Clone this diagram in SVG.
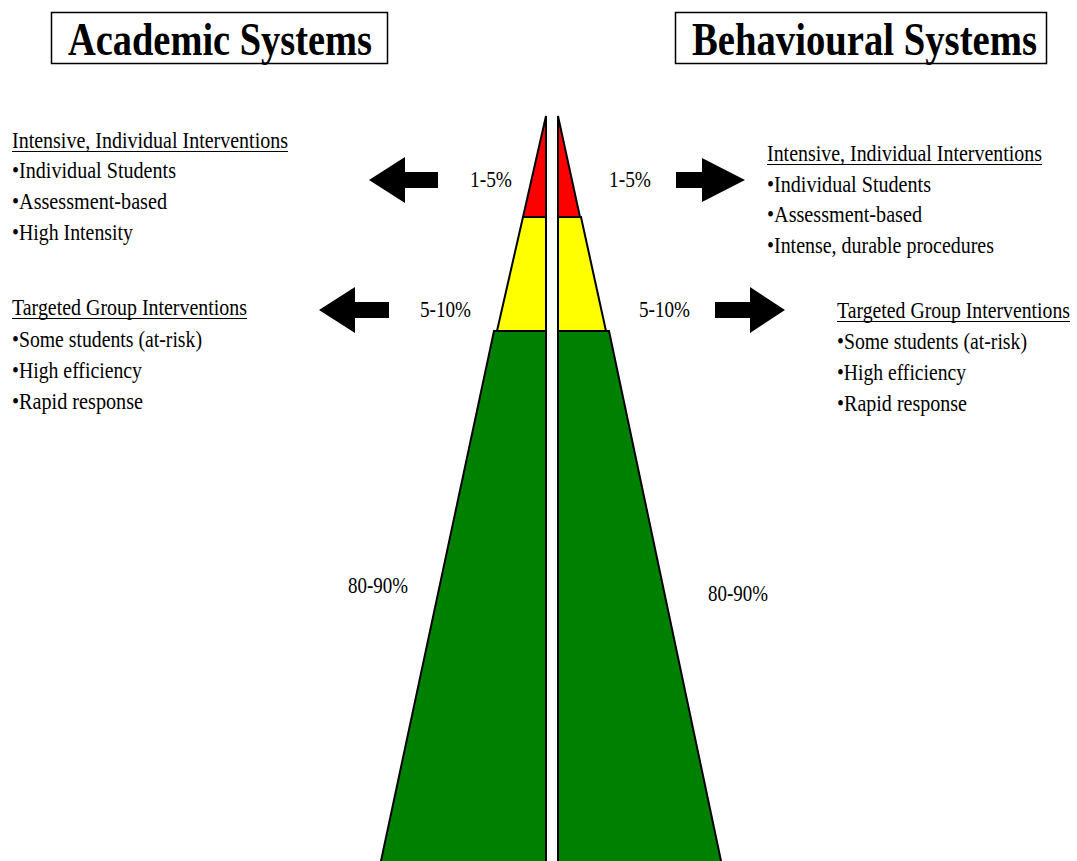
<svg xmlns="http://www.w3.org/2000/svg" width="1077" height="861" viewBox="0 0 1077 861">
<style>
.t{font-family:"Liberation Serif","Times New Roman",serif;font-size:23px;fill:#000}
.h{font-family:"Liberation Serif","Times New Roman",serif;font-size:47px;font-weight:bold;fill:#000}
.box{fill:#fff;stroke:#000;stroke-width:1.5}
.tier{stroke:#000;stroke-width:2;stroke-linejoin:miter}
.ul{stroke:#000;stroke-width:1.2}
.arr{fill:#000}
</style>
<rect width="1077" height="861" fill="#fff"/>
<g id="title-academic">
<rect class="box" x="51.5" y="12.5" width="336" height="51"/>
<text class="h" x="68" y="55" textLength="304" lengthAdjust="spacingAndGlyphs">Academic Systems</text>
</g>
<g id="title-behavioural">
<rect class="box" x="675.5" y="12.5" width="371" height="51"/>
<text class="h" x="692" y="55" textLength="345" lengthAdjust="spacingAndGlyphs">Behavioural Systems</text>
</g>
<g id="pyramid-left">
<polygon class="tier" fill="#008000" points="494,331 546,331 546,875 378,875"/>
<polygon class="tier" fill="#ffff00" points="523,217 546,217 546,331 497,331"/>
<polygon class="tier" fill="#ff0000" points="546,116 546,217 523,217"/>
</g>
<g id="pyramid-right">
<polygon class="tier" fill="#008000" points="558,331 609,331 724,875 558,875"/>
<polygon class="tier" fill="#ffff00" points="558,217 581,217 606,331 558,331"/>
<polygon class="tier" fill="#ff0000" points="558,116 580,217 558,217"/>
</g>
<g id="connectors">
<polygon class="arr" points="369,180 405,157 405,172 438,172 438,188 405,188 405,203"/>
<polygon class="arr" points="319,310 355,287 355,302 389,302 389,318 355,318 355,333"/>
<polygon class="arr" points="745,180 702,158 702,172 676,172 676,188 702,188 702,202"/>
<polygon class="arr" points="785,310 750,287 750,302 715,302 715,318 750,318 750,333"/>
</g>
<g id="labels-percent">
<text class="t" x="470" y="187" textLength="42" lengthAdjust="spacingAndGlyphs">1-5%</text>
<text class="t" x="609" y="187" textLength="42" lengthAdjust="spacingAndGlyphs">1-5%</text>
<text class="t" x="420" y="317" textLength="51" lengthAdjust="spacingAndGlyphs">5-10%</text>
<text class="t" x="639" y="317" textLength="51" lengthAdjust="spacingAndGlyphs">5-10%</text>
<text class="t" x="348" y="593" textLength="60" lengthAdjust="spacingAndGlyphs">80-90%</text>
<text class="t" x="708" y="601" textLength="60" lengthAdjust="spacingAndGlyphs">80-90%</text>
</g>
<g id="academic-intensive">
<text class="t" x="12" y="148" textLength="276" lengthAdjust="spacingAndGlyphs">Intensive, Individual Interventions</text>
<line class="ul" x1="12" y1="151.5" x2="288" y2="151.5"/>
<text class="t" x="12" y="178" textLength="164" lengthAdjust="spacingAndGlyphs">•Individual Students</text>
<text class="t" x="12" y="209" textLength="155" lengthAdjust="spacingAndGlyphs">•Assessment-based</text>
<text class="t" x="12" y="240" textLength="121" lengthAdjust="spacingAndGlyphs">•High Intensity</text>
</g>
<g id="academic-targeted">
<text class="t" x="12" y="315" textLength="235" lengthAdjust="spacingAndGlyphs">Targeted Group Interventions</text>
<line class="ul" x1="12" y1="318.5" x2="247" y2="318.5"/>
<text class="t" x="12" y="347" textLength="190" lengthAdjust="spacingAndGlyphs">•Some students (at-risk)</text>
<text class="t" x="12" y="378" textLength="130" lengthAdjust="spacingAndGlyphs">•High efficiency</text>
<text class="t" x="12" y="409" textLength="131" lengthAdjust="spacingAndGlyphs">•Rapid response</text>
</g>
<g id="behavioural-intensive">
<text class="t" x="767" y="161" textLength="275" lengthAdjust="spacingAndGlyphs">Intensive, Individual Interventions</text>
<line class="ul" x1="767" y1="164.5" x2="1042" y2="164.5"/>
<text class="t" x="767" y="192" textLength="164" lengthAdjust="spacingAndGlyphs">•Individual Students</text>
<text class="t" x="767" y="222" textLength="155" lengthAdjust="spacingAndGlyphs">•Assessment-based</text>
<text class="t" x="767" y="253" textLength="227" lengthAdjust="spacingAndGlyphs">•Intense, durable procedures</text>
</g>
<g id="behavioural-targeted">
<text class="t" x="837" y="318" textLength="233" lengthAdjust="spacingAndGlyphs">Targeted Group Interventions</text>
<line class="ul" x1="837" y1="321.5" x2="1070" y2="321.5"/>
<text class="t" x="837" y="349" textLength="190" lengthAdjust="spacingAndGlyphs">•Some students (at-risk)</text>
<text class="t" x="837" y="380" textLength="129" lengthAdjust="spacingAndGlyphs">•High efficiency</text>
<text class="t" x="837" y="411" textLength="130" lengthAdjust="spacingAndGlyphs">•Rapid response</text>
</g>
</svg>
